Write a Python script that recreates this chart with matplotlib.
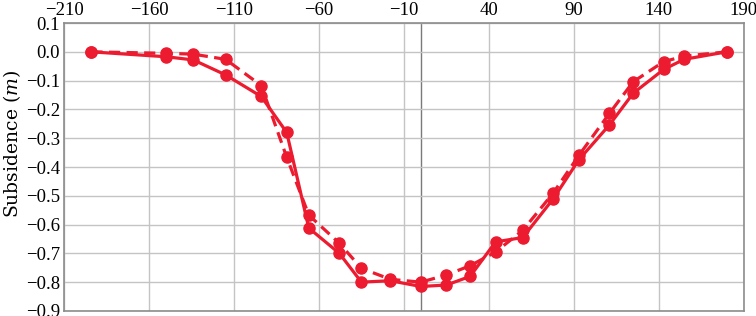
import matplotlib.pyplot as plt

plt.rcParams['font.family'] = ['Liberation Serif', 'DejaVu Serif']
plt.rcParams['mathtext.fontset'] = 'custom'
plt.rcParams['mathtext.it'] = 'DejaVu Serif:italic'
plt.rcParams['mathtext.rm'] = 'DejaVu Serif'

# distance along profile (m)
dist = [-194, -150, -134, -115, -94, -79, -66, -48, -35, -18, 0,
        15, 29, 44, 60, 78, 93, 111, 125, 143, 155, 180]

# subsidence (m), solid line
solid = [0.0, -0.017, -0.028, -0.08, -0.155, -0.28, -0.612, -0.70, -0.80, -0.795, -0.815,
         -0.81, -0.78, -0.66, -0.645, -0.51, -0.375, -0.254, -0.144, -0.061, -0.026, 0.0]

# subsidence (m), dashed line
dashed = [0.0, -0.005, -0.008, -0.026, -0.117, -0.366, -0.567, -0.665, -0.752, -0.79, -0.80,
          -0.775, -0.743, -0.695, -0.62, -0.49, -0.36, -0.214, -0.104, -0.034, -0.015, 0.0]

xticks = [-210, -160, -110, -60, -10, 40, 90, 140, 190]
yticks = [0.1, 0.0, -0.1, -0.2, -0.3, -0.4, -0.5, -0.6, -0.7, -0.8, -0.9]

red = '#EC1B30'

fig = plt.figure(figsize=(7.56, 3.16), dpi=100)
ax = fig.add_axes([0.085, 0.016, 0.8985, 0.911])

ax.plot(dist, solid, color=red, lw=2.3, marker='o', ms=8, zorder=3)
ax.plot(dist, dashed, color=red, lw=2.3, ls=(0, (3.5, 2)), marker='o', ms=8, zorder=3)

ax.axvline(0, color='#7a7a7a', lw=1.0, zorder=1)

ax.set_xlim(-210, 190)
ax.set_ylim(-0.9, 0.1)
ax.set_xticks(xticks)
ax.set_xticklabels([str(v).replace('-', '\u2212') for v in xticks])
ax.set_yticks(yticks)
ax.set_yticklabels([('%.1f' % v).replace('-', '\u2212') for v in yticks])
ax.xaxis.tick_top()
ax.tick_params(length=0, labelsize=13.5)
ax.tick_params(axis='x', pad=3)
ax.tick_params(axis='y', pad=3)

ax.grid(True, color='#c4c4c4', lw=1.0, zorder=0)
for s in ax.spines.values():
    s.set_color('#8c8c8c')
    s.set_linewidth(1.2)

ax.set_ylabel('Subsidence ($m$)', fontsize=13.5, family='DejaVu Serif')
ax.yaxis.set_label_coords(-0.061, 0.58)

fig.savefig('out.png', dpi=100)
